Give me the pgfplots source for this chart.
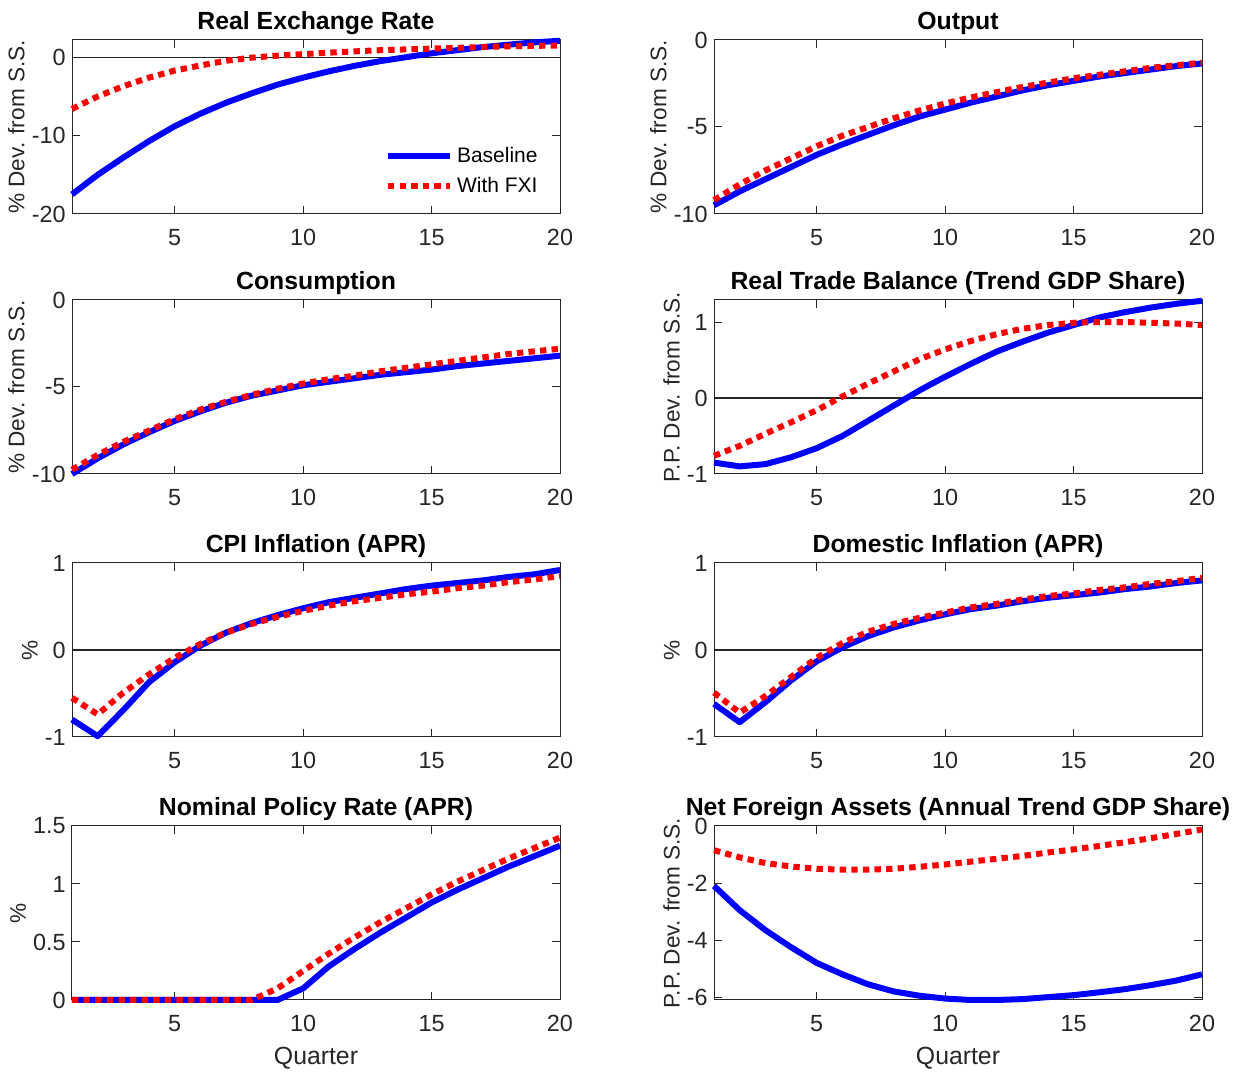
\documentclass[border=0pt]{standalone}
\usepackage{fontspec}
\setmainfont{Liberation Sans}
\usepackage{pgfplots}
\usepackage{pgfplotstable}
\pgfplotsset{compat=1.18}
\definecolor{axgray}{gray}{0.15}

\pgfplotstableread{
q base fxi
1 -17.5 -6.6
2 -15.0 -5.0
3 -12.8 -3.7
4 -10.7 -2.6
5 -8.8 -1.7
6 -7.2 -1.05
7 -5.8 -0.45
8 -4.6 -0.05
9 -3.5 0.2
10 -2.6 0.4
11 -1.8 0.58
12 -1.1 0.75
13 -0.5 0.9
14 0.0 1.0
15 0.5 1.1
16 0.9 1.2
17 1.3 1.3
18 1.6 1.4
19 1.9 1.45
20 2.1 1.5
}\rer

\pgfplotstableread{
q base fxi
1 -9.5 -9.2
2 -8.7 -8.3
3 -8.0 -7.5
4 -7.3 -6.8
5 -6.6 -6.1
6 -6.0 -5.5
7 -5.45 -5.0
8 -4.9 -4.5
9 -4.4 -4.05
10 -4.0 -3.65
11 -3.6 -3.3
12 -3.25 -3.0
13 -2.9 -2.7
14 -2.6 -2.45
15 -2.35 -2.2
16 -2.1 -2.0
17 -1.9 -1.8
18 -1.7 -1.6
19 -1.5 -1.45
20 -1.35 -1.3
}\outp

\pgfplotstableread{
q base fxi
1 -10.0 -9.75
2 -9.1 -8.9
3 -8.3 -8.15
4 -7.6 -7.5
5 -6.95 -6.85
6 -6.4 -6.3
7 -5.9 -5.85
8 -5.5 -5.45
9 -5.2 -5.1
10 -4.9 -4.8
11 -4.7 -4.55
12 -4.5 -4.35
13 -4.3 -4.1
14 -4.15 -3.9
15 -4.0 -3.7
16 -3.8 -3.5
17 -3.65 -3.3
18 -3.5 -3.1
19 -3.35 -2.95
20 -3.2 -2.8
}\cons

\pgfplotstableread{
q base fxi
1 -0.85 -0.76
2 -0.9 -0.63
3 -0.87 -0.47
4 -0.78 -0.32
5 -0.66 -0.16
6 -0.5 0.02
7 -0.3 0.19
8 -0.1 0.35
9 0.1 0.51
10 0.28 0.64
11 0.45 0.75
12 0.61 0.84
13 0.74 0.91
14 0.86 0.96
15 0.96 0.99
16 1.06 1.0
17 1.13 1.0
18 1.19 0.99
19 1.24 0.98
20 1.28 0.96
}\tb

\pgfplotstableread{
q base fxi
1 -0.8 -0.55
2 -0.99 -0.74
3 -0.69 -0.49
4 -0.37 -0.28
5 -0.14 -0.09
6 0.05 0.07
7 0.2 0.2
8 0.31 0.3
9 0.4 0.38
10 0.48 0.45
11 0.55 0.51
12 0.6 0.56
13 0.65 0.6
14 0.7 0.64
15 0.74 0.67
16 0.77 0.71
17 0.8 0.74
18 0.84 0.78
19 0.87 0.81
20 0.92 0.85
}\cpi

\pgfplotstableread{
q base fxi
1 -0.62 -0.49
2 -0.83 -0.72
3 -0.6 -0.53
4 -0.35 -0.31
5 -0.13 -0.09
6 0.03 0.08
7 0.16 0.21
8 0.26 0.3
9 0.34 0.37
10 0.41 0.43
11 0.47 0.49
12 0.51 0.53
13 0.56 0.58
14 0.6 0.62
15 0.63 0.65
16 0.66 0.69
17 0.7 0.72
18 0.73 0.76
19 0.77 0.79
20 0.8 0.83
}\dom

\pgfplotstableread{
q base fxi
1 0 0
2 0 0
3 0 0
4 0 0
5 0 0
6 0 0
7 0 0
8 0 0
9 0 0.1
10 0.1 0.25
11 0.29 0.4
12 0.44 0.54
13 0.58 0.67
14 0.71 0.79
15 0.84 0.91
16 0.95 1.02
17 1.05 1.12
18 1.15 1.22
19 1.24 1.31
20 1.33 1.40
}\pol

\pgfplotstableread{
q base fxi
1 -2.1 -0.85
2 -2.95 -1.1
3 -3.65 -1.3
4 -4.25 -1.42
5 -4.8 -1.5
6 -5.2 -1.53
7 -5.55 -1.53
8 -5.8 -1.5
9 -5.95 -1.43
10 -6.05 -1.35
11 -6.1 -1.25
12 -6.1 -1.15
13 -6.07 -1.05
14 -6.0 -0.93
15 -5.93 -0.82
16 -5.83 -0.7
17 -5.72 -0.57
18 -5.58 -0.43
19 -5.42 -0.28
20 -5.2 -0.12
}\nfa

\pgfplotsset{
  panel/.style={
    scale only axis, width=244pt, height=87pt, anchor=south west,
    xmin=1, xmax=20, xtick={5,10,15,20},
    axis line style={axgray, line width=0.5pt},
    tick style={axgray, line width=0.5pt},
    tick align=inside, major tick length=4pt,
    ticklabel style={font=\fontsize{11.7}{13}\selectfont, text=axgray},
    /pgf/number format/assume math mode=true,
    x tick label style={inner sep=0pt, yshift=-7.5pt},
    y tick label style={inner sep=0pt, xshift=-3pt},
    title style={font=\bfseries\fontsize{12.4}{14}\selectfont, anchor=base, at={(0.5,1)}, yshift=-1pt, inner sep=0pt},
    label style={font=\fontsize{11.3}{13}\selectfont, text=axgray},
    xlabel style={font=\fontsize{12.4}{14}\selectfont, inner sep=0pt, yshift=-7.5pt},
    clip=false,
  },
  base/.style={blue, line width=3pt, line join=round},
  fxi/.style={red, line width=3pt, dash pattern=on 3.2pt off 2.6pt},
  zl/.style={black!85, line width=0.6pt, forget plot},
}

\begin{document}
\begin{tikzpicture}
\path[use as bounding box] (0,0) rectangle (622pt,536pt);

% Row 1 left
\begin{axis}[panel, at={(36pt,429pt)}, ymin=-20, ymax=2.2, ytick={-20,-10,0},
  title={Real Exchange Rate}, ylabel={\% Dev. from S.S.},
  legend style={draw=none, fill=none, at={(1,0)}, anchor=south east, xshift=-8pt, yshift=6pt,
    font=\fontsize{10.5}{12}\selectfont, row sep=2pt, inner sep=1pt},
  legend cell align=left,
  legend image code/.code={\draw[#1] (0pt,0pt) -- (31pt,0pt);}]
\addplot[zl] coordinates {(1,0) (20,0)};
\addplot[base] table[x=q,y=base]{\rer};
\addlegendentry{Baseline}
\addplot[fxi] table[x=q,y=fxi]{\rer};
\addlegendentry{With FXI}
\end{axis}

% Row 1 right
\begin{axis}[panel, at={(357pt,429pt)}, ymin=-10, ymax=0, ytick={-10,-5,0},
  title={Output}, ylabel={\% Dev. from S.S.}]
\addplot[base] table[x=q,y=base]{\outp};
\addplot[fxi] table[x=q,y=fxi]{\outp};
\end{axis}

% Row 2 left
\begin{axis}[panel, at={(36pt,299pt)}, ymin=-10, ymax=0, ytick={-10,-5,0},
  title={Consumption}, ylabel={\% Dev. from S.S.}]
\addplot[base] table[x=q,y=base]{\cons};
\addplot[fxi] table[x=q,y=fxi]{\cons};
\end{axis}

% Row 2 right
\begin{axis}[panel, at={(357pt,299pt)}, ymin=-1, ymax=1.29, ytick={-1,0,1},
  title={Real Trade Balance (Trend GDP Share)}, ylabel={P.P. Dev. from S.S.}]
\addplot[zl] coordinates {(1,0) (20,0)};
\addplot[base] table[x=q,y=base]{\tb};
\addplot[fxi] table[x=q,y=fxi]{\tb};
\end{axis}

% Row 3 left
\begin{axis}[panel, at={(36pt,167.5pt)}, ymin=-1, ymax=1, ytick={-1,0,1},
  title={CPI Inflation (APR)}, ylabel={\%}]
\addplot[zl] coordinates {(1,0) (20,0)};
\addplot[base] table[x=q,y=base]{\cpi};
\addplot[fxi] table[x=q,y=fxi]{\cpi};
\end{axis}

% Row 3 right
\begin{axis}[panel, at={(357pt,167.5pt)}, ymin=-1, ymax=1, ytick={-1,0,1},
  title={Domestic Inflation (APR)}, ylabel={\%}]
\addplot[zl] coordinates {(1,0) (20,0)};
\addplot[base] table[x=q,y=base]{\dom};
\addplot[fxi] table[x=q,y=fxi]{\dom};
\end{axis}

% Row 4 left
\begin{axis}[panel, at={(36pt,36pt)}, ymin=0, ymax=1.5, ytick={0,0.5,1,1.5},
  title={Nominal Policy Rate (APR)}, ylabel={\%}, xlabel={Quarter}]
\addplot[base] table[x=q,y=base]{\pol};
\addplot[fxi] table[x=q,y=fxi]{\pol};
\end{axis}

% Row 4 right
\begin{axis}[panel, at={(357pt,36pt)}, ymin=-6.1, ymax=0, ytick={-6,-4,-2,0},
  title={Net Foreign Assets (Annual Trend GDP Share)}, ylabel={P.P. Dev. from S.S.}, xlabel={Quarter}]
\addplot[base] table[x=q,y=base]{\nfa};
\addplot[fxi] table[x=q,y=fxi]{\nfa};
\end{axis}
\end{tikzpicture}
\end{document}
